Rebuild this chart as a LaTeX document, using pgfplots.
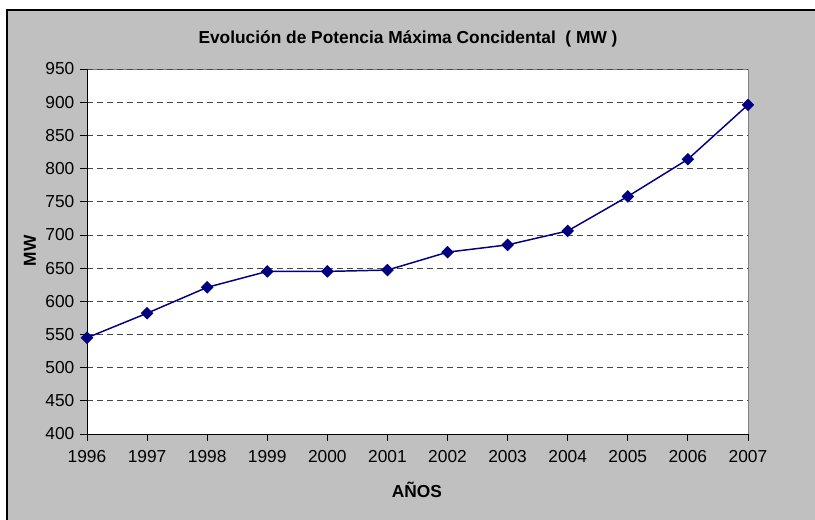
\documentclass[border=0pt]{standalone}
\usepackage{pgfplots}
\pgfplotsset{compat=1.18}
\usepackage{fontspec}
\setmainfont{Liberation Sans}
\definecolor{bggray}{RGB}{192,192,192}
\definecolor{navy}{RGB}{0,0,128}
\definecolor{gridgray}{RGB}{70,70,70}
\begin{document}
\begin{tikzpicture}[x=0.75pt,y=0.75pt]
\useasboundingbox (0,0) rectangle (815,519);
\fill[white] (-5,-5) rectangle (825,525);
\fill[bggray] (7,-5) rectangle (825,509);
\draw[black,line width=0.9pt] (7,-5) -- (7,509) -- (825,509);
\begin{axis}[
  at={(65.25pt,63.75pt)}, anchor=south west,
  scale only axis, width=495.75pt, height=273.75pt,
  xmin=1996, xmax=2007, ymin=400, ymax=950,
  xtick={1996,...,2007}, ytick={400,450,...,950},
  axis lines=left, axis line style={-, black, line width=0.6pt},
  axis background/.style={fill=white, draw=gray, line width=0.6pt},
  tick align=outside, major tick length=5pt,
  tick style={black, line width=0.6pt},
  ymajorgrids, grid style={gridgray, line width=0.6pt, dash pattern=on 4.5pt off 3pt},
  /pgf/number format/1000 sep={},
  /pgf/number format/assume math mode=true,
  tick label style={font=\fontsize{13}{15}\selectfont},
  yticklabel style={xshift=-1pt},
  xticklabel style={yshift=-4pt},
  clip=false,
]
\addplot[navy, line width=1.1pt, mark=square*, mark size=2.8pt, mark options={fill=navy, draw=navy, rotate=45, solid}]
coordinates {
(1996,545) (1997,582) (1998,621) (1999,645) (2000,645) (2001,647)
(2002,674) (2003,685) (2004,706) (2005,758) (2006,814) (2007,896)
};
\end{axis}
\node[font=\bfseries\fontsize{13}{15}\selectfont] at (408,480) {Evolución de Potencia Máxima Concidental\ \ ( MW )};
\node[font=\bfseries\fontsize{13}{15}\selectfont, rotate=90] at (30,268) {MW};
\node[font=\bfseries\fontsize{13}{15}\selectfont] at (417,29) {AÑOS};
\end{tikzpicture}
\end{document}
